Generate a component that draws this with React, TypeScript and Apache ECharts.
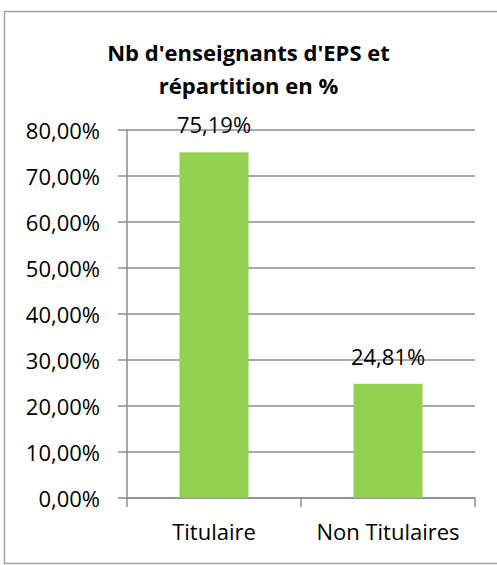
import React, { useEffect, useRef } from "react";
import * as echarts from "echarts";

const categories = ["Titulaire", "Non Titulaires"];
const values = [75.19, 24.81];
const titleText = "Nb d'enseignants d'EPS et\nrépartition en %";
const yMin = 0;
const yMax = 80;
const yInterval = 10;

const fmt = (v: number) => v.toFixed(2).replace(".", ",") + "%";

export default function App() {
  const ref = useRef<HTMLDivElement>(null);
  useEffect(() => {
    if (!ref.current) return;
    const chart = echarts.init(ref.current, undefined, { renderer: "svg" });
    const font = "'Open Sans', 'Noto Sans', sans-serif";
    chart.setOption({
      animation: false,
      backgroundColor: "#ffffff",
      textStyle: { fontFamily: font },
      graphic: [
        {
          type: "rect",
          shape: { x: 4.5, y: 11.5, width: 510, height: 552 },
          style: { fill: "none", stroke: "#a0a0a0", lineWidth: 1.5 },
          z: -1,
        },
      ],
      title: {
        text: titleText,
        left: "center",
        top: 30,
        textStyle: {
          fontFamily: font,
          fontSize: 22,
          fontWeight: "bold",
          lineHeight: 33,
          color: "#000",
        },
      },
      grid: { left: 127, right: 22, top: 130, bottom: 67 },
      xAxis: {
        type: "category",
        data: categories,
        axisLine: { show: true, lineStyle: { color: "#8c8c8c", width: 1.5 } },
        axisTick: { show: true, length: 9, alignWithLabel: false, lineStyle: { color: "#8c8c8c", width: 1.5 } },
        axisLabel: { fontFamily: font, fontSize: 22, color: "#000", margin: 22, interval: 0 },
        splitLine: { show: false },
      },
      yAxis: {
        type: "value",
        min: yMin,
        max: yMax,
        interval: yInterval,
        axisLine: { show: true, lineStyle: { color: "#8c8c8c", width: 1.5 } },
        axisTick: { show: true, length: 9, lineStyle: { color: "#8c8c8c", width: 1.5 } },
        axisLabel: { fontFamily: font, fontSize: 22, color: "#000", margin: 27, formatter: (v: number) => fmt(v) },
        splitLine: { show: true, lineStyle: { color: "#8c8c8c", width: 1.5 } },
      },
      series: [
        {
          type: "bar",
          data: values,
          barWidth: 69,
          itemStyle: { color: "#92D050" },
          label: {
            show: true,
            position: "top",
            distance: 17,
            fontFamily: font,
            fontSize: 22,
            color: "#000",
            formatter: (p: any) => fmt(p.value),
          },
        },
      ],
    });
    return () => chart.dispose();
  }, []);
  return (
    <div
      ref={ref}
      style={{ position: "fixed", left: 0, top: 0, width: 497, height: 565 }}
    />
  );
}
